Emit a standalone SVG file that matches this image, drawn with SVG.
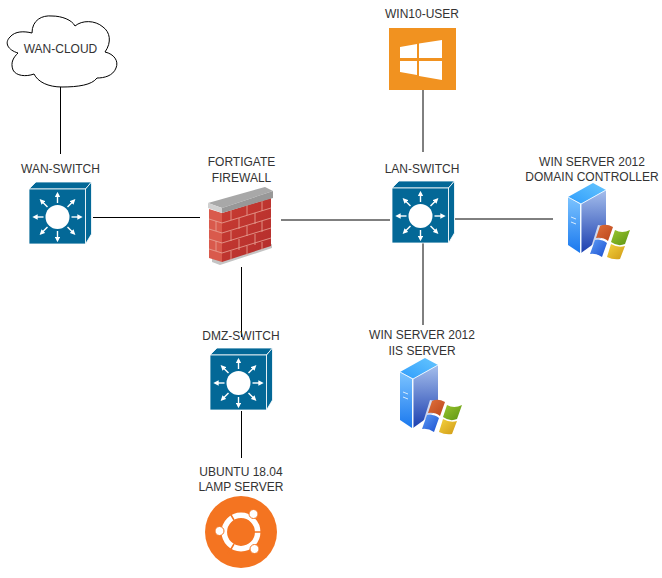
<svg xmlns="http://www.w3.org/2000/svg" width="662" height="578" viewBox="0 0 662 578">
<style>
text{font-family:"Liberation Sans",Arial,sans-serif;font-size:12px;fill:#333;text-anchor:middle}
.c{stroke:#000;stroke-width:1;fill:none}
.sw{fill:#036897;stroke:#fff;stroke-width:.8}
.ar{stroke:#fff;stroke-width:1.4;fill:none;marker-end:url(#a)}
</style>
<defs>
<marker id="a" viewBox="0 0 6 6" refX="3" refY="3" markerWidth="3.800" markerHeight="3.800" markerUnits="strokeWidth" orient="auto"><path d="M0 0L6 3L0 6Z" fill="#fff"/></marker>
<linearGradient id="tl" x1="0" y1="0" x2="0" y2="1"><stop offset="0" stop-color="#7cc4ff"/><stop offset="1" stop-color="#1a78ee"/></linearGradient>
<linearGradient id="tr" x1="0" y1="0" x2="0" y2="1"><stop offset="0" stop-color="#a6bfec"/><stop offset="1" stop-color="#1b3fb0"/></linearGradient>
<linearGradient id="tt" x1="0" y1="1" x2="1" y2="0"><stop offset="0" stop-color="#2f9cfb"/><stop offset="1" stop-color="#65c6ff"/></linearGradient>
<linearGradient id="br" x1="0" y1="0" x2="1" y2="1"><stop offset="0" stop-color="#c93c32"/><stop offset="1" stop-color="#b32d2c"/></linearGradient>
<linearGradient id="fr" x1="0" y1="0" x2="1" y2="1"><stop offset="0" stop-color="#e0703a"/><stop offset="1" stop-color="#b9451c"/></linearGradient>
<linearGradient id="fg" x1="0" y1="0" x2="1" y2="1"><stop offset="0" stop-color="#9ac62e"/><stop offset="1" stop-color="#5d9413"/></linearGradient>
<linearGradient id="fb" x1="0" y1="0" x2="1" y2="1"><stop offset="0" stop-color="#5c9bf5"/><stop offset="1" stop-color="#1b4fd0"/></linearGradient>
<linearGradient id="fy" x1="0" y1="0" x2="1" y2="1"><stop offset="0" stop-color="#f5d23e"/><stop offset="1" stop-color="#cf9a16"/></linearGradient>
<g id="switch">
<path class="sw" d="M0 7L7 0H62.500L56.500 7Z"/>
<path class="sw" d="M56.500 7L62.500 0V52L56.500 62Z"/>
<rect class="sw" x="0" y="7" width="56.500" height="55"/>
<circle cx="28.500" cy="35" r="12" fill="#fff"/>
<path class="ar" d="M28.500 21V12.500"/><path class="ar" d="M28.500 49V57.500"/>
<path class="ar" d="M14.500 35H6"/><path class="ar" d="M42.500 35H51"/>
<path class="ar" d="M18.500 25L12.500 19"/><path class="ar" d="M38.500 25L44.500 19"/>
<path class="ar" d="M18.500 45L12.500 51"/><path class="ar" d="M38.500 45L44.500 51"/>
</g>
<g id="server">
<path fill="url(#tl)" d="M0 14L12 21V70L0 62Z"/>
<path fill="url(#tr)" d="M13 21L38 7V52L13 70Z"/>
<path fill="url(#tt)" d="M0 14L25 0L38 7L13 21Z"/>
<path stroke="#e8f4ff" stroke-width="1" fill="none" d="M0 14L13 21L38 7M13 21V70"/>
<path stroke="#d8ecff" stroke-width="1" fill="none" d="M3 34L8 36M3 39L8 41"/>
<path fill="#fff" fill-opacity=".75" d="M30 42L63 48L55 78L20 74Z"/>
<path fill="url(#fr)" d="M32 43Q38 40 45 44L40 58Q35 54 28 55Z"/>
<path fill="url(#fg)" d="M47 47Q54 51 62 47L57 61Q50 64 43 59Z"/>
<path fill="url(#fb)" d="M27 57Q34 56 39 60L34 74Q28 70 22 71Z"/>
<path fill="url(#fy)" d="M43 61Q50 65 57 63L52 76Q45 77 39 74Z"/>
</g>
</defs>
<rect width="662" height="578" fill="#fff"/>
<g id="connectors">
<path class="c" d="M60.500 87V154"/>
<path class="c" d="M93 217.500H200"/>
<path class="c" d="M281 220H390"/>
<path class="c" d="M241.500 267V337"/>
<path class="c" d="M423 90V152"/>
<path class="c" d="M455 219H553"/>
<path class="c" d="M423 243V325"/>
<path class="c" d="M241.500 411V458"/>
</g>
<g id="wan-cloud">
<path fill="#fff" stroke="#000" d="M18 53C8 50 4 43 10 37C15 31 24 31 32 33C32 20 42 15 52 16C62 16 72 20 75 26C82 20 95 20 103 27C110 32 112 42 105 52C114 54 119 61 116 68C113 76 104 78 97 78C92 85 78 87 62 87C48 87 38 82 34 74C26 77 16 76 13 70C10 62 14 57 18 53Z"/>
<text x="60.500" y="53">WAN-CLOUD</text>
</g>
<g id="wan-switch">
<text x="60.500" y="173">WAN-SWITCH</text>
<use href="#switch" x="29" y="182"/>
</g>
<g id="fortigate">
<text x="241.500" y="166">FORTIGATE</text>
<text x="241.500" y="182">FIREWALL</text>
<path fill="#c4c4c4" d="M212 256L222 259L272 244V248L220 265L212 262Z"/>
<path fill="#d95a4c" d="M209 209L222 213V262L209 258Z"/>
<path fill="url(#br)" d="M222 213L271 198V246L222 262Z"/>
<path stroke="#e8a598" stroke-width=".8" fill="none" d="M209 219L222 223L271 208M209 229L222 233L271 218M209 239L222 243L271 228M209 249L222 253L271 238M231 210V220M247 205V215M262 201V211M239 218V229M255 213V224M231 231V241M247 226V236M262 221V232M239 239V250M255 234V245M231 251V260M247 246V256M262 242V250M216 221V231M216 241V251"/>
<path fill="#a8a8a8" d="M208 203L265 187L273 191L222 208Z"/>
<path fill="#d0d0d0" d="M208 203L222 208V213L208 208Z"/>
<path fill="#989898" d="M222 208L273 191V198L222 213Z"/>
</g>
<g id="win10-user">
<text x="422" y="18">WIN10-USER</text>
<rect x="389" y="28" width="67" height="62" fill="#f19220"/>
<path fill="#fff" d="M400 47L417 44V58H400ZM419 43.500L442 40V58H419ZM400 61H417V75L400 72ZM419 61H442V80L419 76Z"/>
</g>
<g id="lan-switch">
<text x="422" y="173">LAN-SWITCH</text>
<use href="#switch" x="392" y="181"/>
</g>
<g id="dc">
<text x="592" y="166">WIN SERVER 2012</text>
<text x="592" y="181">DOMAIN CONTROLLER</text>
<use href="#server" x="568" y="183"/>
</g>
<g id="dmz-switch">
<text x="241" y="340">DMZ-SWITCH</text>
<use href="#switch" x="210" y="348"/>
</g>
<g id="iis">
<text x="422" y="339">WIN SERVER 2012</text>
<text x="422" y="355">IIS SERVER</text>
<use href="#server" x="400" y="358"/>
</g>
<g id="ubuntu">
<text x="241" y="476">UBUNTU 18.04</text>
<text x="241" y="491">LAMP SERVER</text>
<circle cx="241" cy="532" r="36" fill="#f47421"/>
<circle cx="241" cy="532" r="16.700" fill="none" stroke="#fff" stroke-width="5.500"/>
<path stroke="#f47421" stroke-width="1.500" fill="none" d="M254 532H263M234 544L228 554M234 520L228 510"/>
<g fill="#fff" stroke="#f47421" stroke-width="1"><circle cx="219.500" cy="531" r="4.500"/><circle cx="253.500" cy="514" r="4.500"/><circle cx="254.500" cy="549" r="4.500"/></g>
</g>
</svg>
